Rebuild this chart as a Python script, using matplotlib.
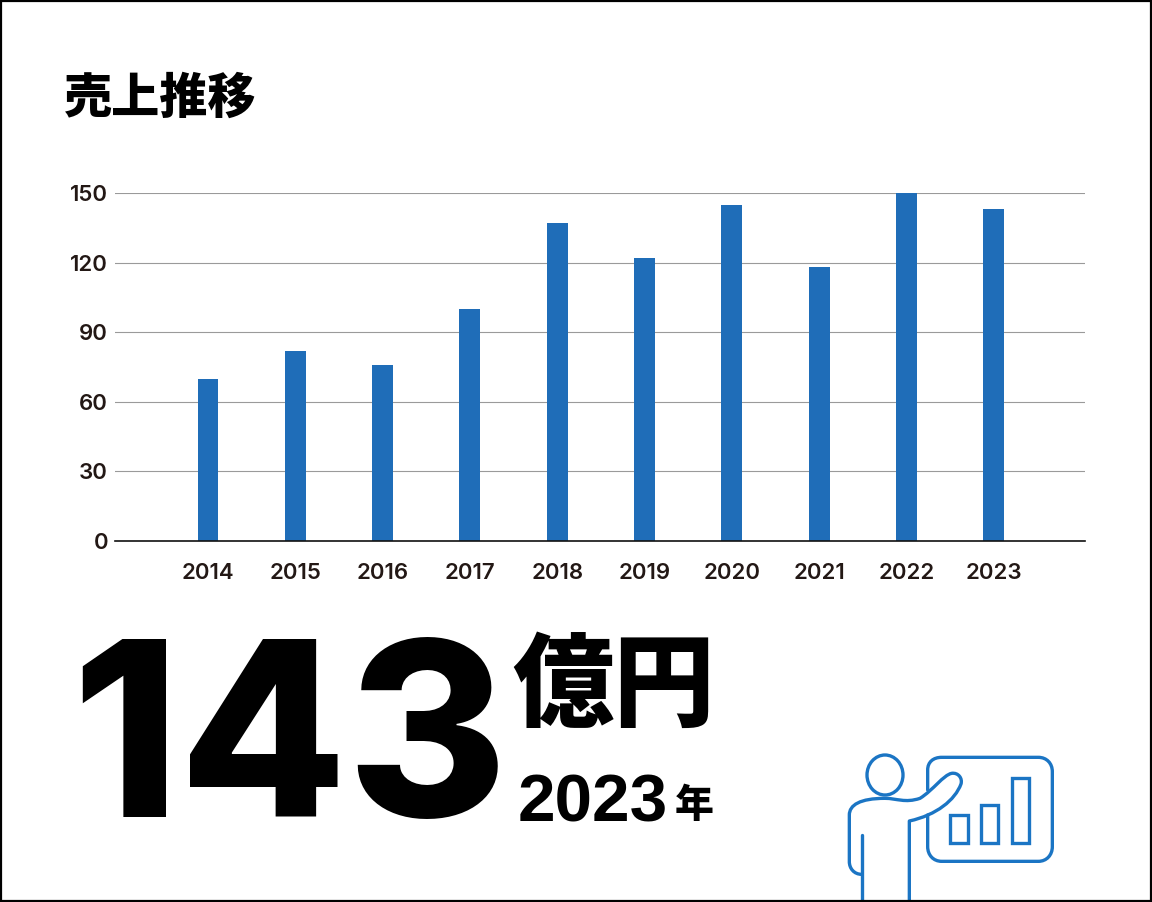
import matplotlib
matplotlib.use("Agg")
import matplotlib.pyplot as plt
from matplotlib.path import Path
from matplotlib.patches import PathPatch, Ellipse, Rectangle

years = ["2014", "2015", "2016", "2017", "2018", "2019", "2020", "2021", "2022", "2023"]
sales = [70, 82, 76, 100, 137, 122, 145, 118, 150, 143]
y_ticks = [0, 30, 60, 90, 120, 150]

W, H = 1152, 902
BLUE = "#1f6db8"
ICON = "#1b75c4"
INK = "#231815"
JP = ["Noto Sans CJK JP", "DejaVu Sans"]
NUM = ["Inter", "Noto Sans", "DejaVu Sans"]

fig = plt.figure(figsize=(W / 100, H / 100), dpi=100, facecolor="white")

# chart area in pixels: x 115-1085, y 193-541
ax = fig.add_axes([115 / W, 1 - 541 / H, 970 / W, 348 / H])
x = list(range(len(years)))
ax.bar(x, sales, width=0.24, color=BLUE, zorder=3)
ax.set_xlim(-1.065, 10.045)
ax.set_ylim(0, 150)
ax.set_yticks(y_ticks)
ax.set_xticks(x, years)
ax.grid(axis="y", color="#9a9a9a", lw=0.8, zorder=0)
ax.set_axisbelow(True)
for s in ["top", "left", "right"]:
    ax.spines[s].set_visible(False)
ax.spines["bottom"].set_color("#111111")
ax.spines["bottom"].set_linewidth(1.2)
ax.spines["bottom"].set_zorder(4)
ax.tick_params(axis="both", length=0, labelcolor=INK, labelsize=16)
ax.tick_params(axis="x", pad=15.5)
ax.tick_params(axis="y", pad=5)
for lab in ax.get_xticklabels() + ax.get_yticklabels():
    lab.set_family(NUM)
    lab.set_fontweight(600)
ax.patch.set_alpha(0)

# overlay in pixel coordinates for the big text and the icon
ov = fig.add_axes([0, 0, 1, 1], zorder=5)
ov.set_xlim(0, W)
ov.set_ylim(H, 0)
ov.axis("off")

ov.text(64, 113, "売上推移", family=JP, fontsize=34.7, fontweight="black", color="black")
ov.text(71, 817, "143", family=NUM, fontsize=176, fontweight=800, color="black")
ov.text(512, 718, "億円", family=JP, fontsize=73, fontweight="black", color="black")
ov.text(518, 822, "2023", family=["Liberation Sans", "DejaVu Sans"], fontsize=48.5,
        fontweight="bold", color="black")
ov.text(675, 817, "年", family=JP, fontsize=28, fontweight="black", color="black")


def z(px, py):
    return (830 + px / 3, 740 + py / 3)


def draw(points, codes):
    verts = [z(*p) for p in points]
    ov.add_patch(PathPatch(Path(verts, codes), fc="none", ec=ICON, lw=2.4,
                           capstyle="round", joinstyle="round"))


M, L, C = Path.MOVETO, Path.LINETO, Path.CURVE4

# board, open on the left where the arm passes
draw([(293, 150), (293, 90), (293, 90), (293, 90), (293, 66), (310, 52), (335, 52),
      (625, 52), (650, 52), (667, 70), (667, 95), (667, 320), (667, 345), (650, 364), (625, 364),
      (335, 364), (310, 364), (293, 345), (293, 320), (293, 225)],
     [M, L, L, L, C, C, C, L, C, C, C, L, C, C, C, L, C, C, C, L])

for left, top, right, bottom in [(361, 226, 413, 310), (452, 194, 503, 310), (546, 113, 598, 310)]:
    x0, y0 = z(left, top)
    x1, y1 = z(right, bottom)
    ov.add_patch(Rectangle((x0, y0), x1 - x0, y1 - y0, fc="none", ec=ICON, lw=2.4))

# head
ov.add_patch(Ellipse(z(165, 105), 36, 40, fc="none", ec=ICON, lw=2.4))

# body and arm
draw([(95, 403), (72, 403), (58, 385), (58, 365), (58, 225), (58, 195), (90, 175), (165, 175),
      (200, 175), (225, 190), (270, 175), (310, 150), (340, 105), (365, 100),
      (385, 97), (398, 115), (393, 132), (375, 180), (320, 225), (238, 243), (238, 482)],
     [M, C, C, C, L, C, C, C, C, C, C, C, C, C, C, C, C, C, C, C, L])
draw([(95, 285), (95, 482)], [M, L])

# frame
ov.add_patch(Rectangle((1, 1), W - 2, H - 2, fc="none", ec="black", lw=1.6, clip_on=False))

fig.savefig("out.png", dpi=100, facecolor="white")
